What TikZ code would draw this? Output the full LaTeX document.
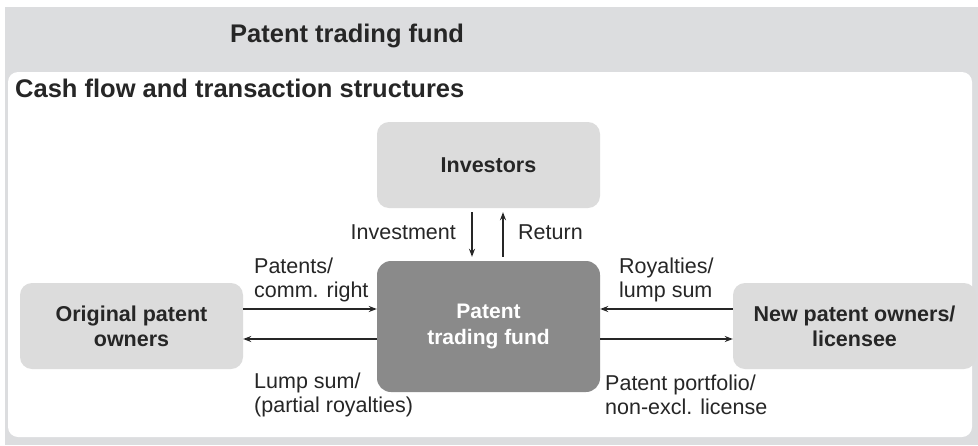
\documentclass[tikz,border=0pt]{standalone}
\usepackage{fontspec}
\setmainfont{Liberation Sans}
\usetikzlibrary{arrows.meta,calc}
\definecolor{bggray}{HTML}{DCDDDF}
\definecolor{boxgray}{HTML}{DCDCDC}
\definecolor{darkbox}{HTML}{8A8A8A}
\definecolor{inkc}{HTML}{262626}
\tikzset{
  lightbox/.style={fill=boxgray, rounded corners=12pt, minimum width=223pt, minimum height=86pt, inner sep=0pt, align=center, font=\fontsize{21.5}{25}\selectfont\bfseries, text=inkc},
  fundbox/.style={fill=darkbox, rounded corners=14pt, minimum width=223pt, minimum height=131pt, inner sep=0pt, align=center, font=\fontsize{21}{26}\selectfont\bfseries, text=white},
  flow/.style={draw=inkc, line width=1.3pt, -{Stealth[length=8pt,width=6pt]}},
  lbl/.style={font=\fontsize{21.5}{24}\selectfont, text=inkc, align=left, inner sep=0pt},
  heading/.style={font=\fontsize{25.5}{28}\selectfont\bfseries, text=inkc, inner sep=0pt}
}
\begin{document}
\begin{tikzpicture}[x=1pt,y=-1pt]
\useasboundingbox (0,0) rectangle (978,445);
\fill[bggray] (5,7) rectangle (978,445);
\fill[white, rounded corners=10pt] (8,72) rectangle (972,437);
\node[heading, anchor=west] (title) at (230,36) {Patent trading fund};
\node[heading, anchor=west] (sub) at (15,88) {Cash flow and transaction structures};

\node[lightbox] (inv) at (488.5,165) {Investors};
\node[fundbox] (ptf) at (488.5,326.5) {Patent\\trading fund};
\node[lightbox] (orig) at (131.5,326) {Original patent\\owners};
\node[lightbox, minimum width=243pt] (new) at (854.5,326) {New patent owners/\\licensee};

\draw[flow, shorten <=4pt, shorten >=4pt] ([xshift=-16.5pt]inv.south) -- ([xshift=-16.5pt]inv.south |- ptf.north);
\draw[flow, shorten <=4pt, shorten >=4pt] ([xshift=14.5pt]inv.south |- ptf.north) -- ([xshift=14.5pt]inv.south);

\draw[flow] ([yshift=17pt]orig.east) -- ([yshift=17pt]orig.east -| ptf.west);
\draw[flow] ([yshift=-13pt]orig.east -| ptf.west) -- ([yshift=-13pt]orig.east);
\draw[flow] ([yshift=17pt]new.west) -- ([yshift=17pt]new.west -| ptf.east);
\draw[flow] ([yshift=-13pt]new.west -| ptf.east) -- ([yshift=-13pt]new.west);

\node[lbl, anchor=east] (linv) at (456,232) {Investment};
\node[lbl, anchor=west] (lret) at (518,232) {Return};
\node[lbl, anchor=west] (lpat) at (254,280) {Patents/\\comm. right};
\node[lbl, anchor=west] (llump) at (254,395) {Lump sum/\\(partial royalties)};
\node[lbl, anchor=west] (lroy) at (619,280) {Royalties/\\lump sum};
\node[lbl, anchor=west] (lport) at (605,395) {Patent portfolio/\\non-excl. license};
\end{tikzpicture}
\end{document}
